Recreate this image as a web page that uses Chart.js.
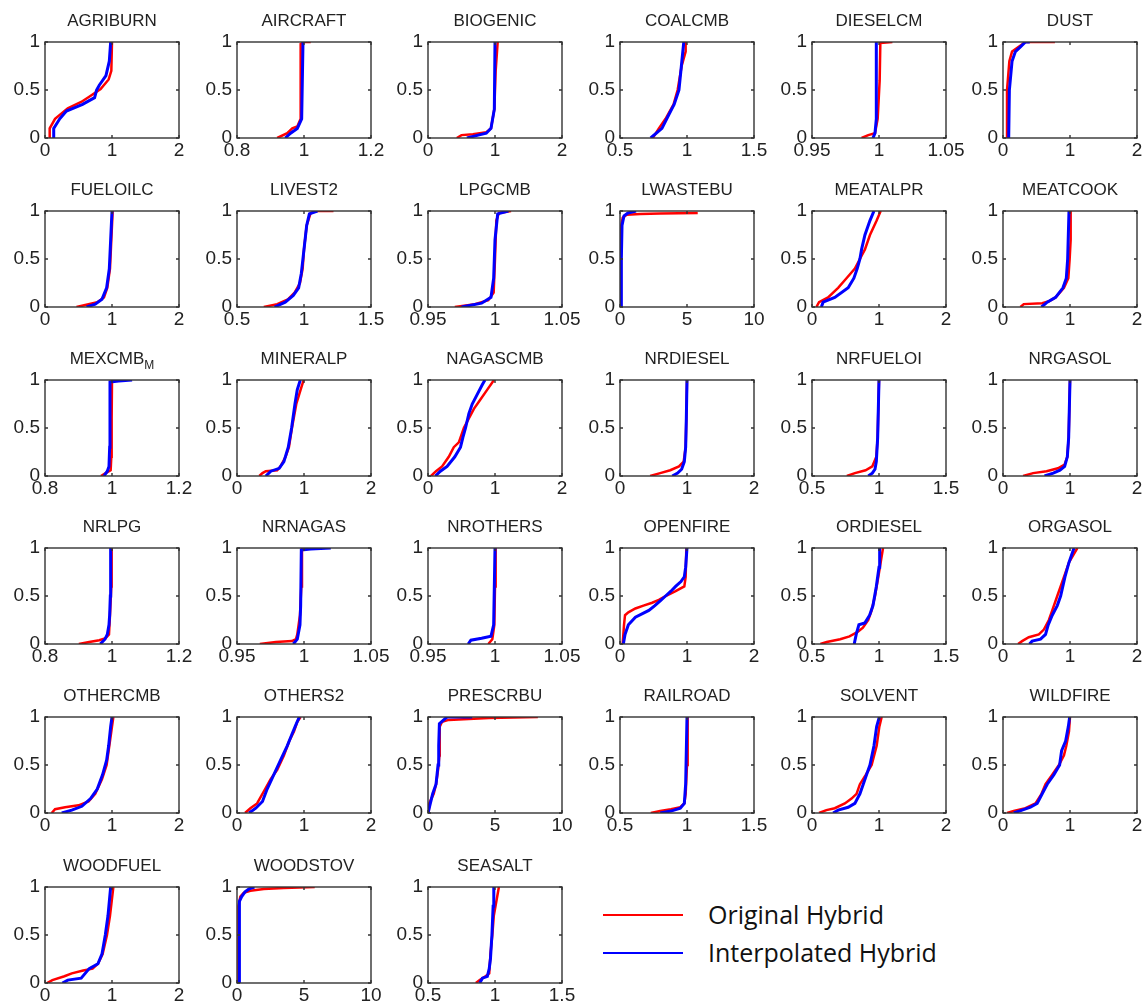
<!DOCTYPE html>
<html>
<head>
<meta charset="utf-8">
<script src="https://cdn.jsdelivr.net/npm/chart.js@4.4.1/dist/chart.umd.min.js"></script>
<style>
  html, body { margin: 0; padding: 0; background: #fff; overflow: hidden; }
  #wrap { position: relative; width: 1148px; height: 1008px; overflow: hidden; }
  #wrap canvas { position: absolute; }
  .leg-line { position: absolute; left: 603px; width: 80px; height: 2px; }
  .leg-text { position: absolute; left: 708px; font-family: "Open Sans", sans-serif; font-size: 25px; line-height: 30px; color: #111; white-space: nowrap; }
</style>
</head>
<body>
<div id="wrap"></div>
<script>
// panel titles, "_" marks a subscript
const panelNames = [
  'AGRIBURN', 'AIRCRAFT', 'BIOGENIC', 'COALCMB', 'DIESELCM', 'DUST',
  'FUELOILC', 'LIVEST2', 'LPGCMB', 'LWASTEBU', 'MEATALPR', 'MEATCOOK',
  'MEXCMB_M', 'MINERALP', 'NAGASCMB', 'NRDIESEL', 'NRFUELOI', 'NRGASOL',
  'NRLPG', 'NRNAGAS', 'NROTHERS', 'OPENFIRE', 'ORDIESEL', 'ORGASOL',
  'OTHERCMB', 'OTHERS2', 'PRESCRBU', 'RAILROAD', 'SOLVENT', 'WILDFIRE',
  'WOODFUEL', 'WOODSTOV', 'SEASALT'
];

const xTicks = [
  [0, 1, 2], [0.8, 1, 1.2], [0, 1, 2], [0.5, 1, 1.5], [0.95, 1, 1.05], [0, 1, 2],
  [0, 1, 2], [0.5, 1, 1.5], [0.95, 1, 1.05], [0, 5, 10], [0, 1, 2], [0, 1, 2],
  [0.8, 1, 1.2], [0, 1, 2], [0, 1, 2], [0, 1, 2], [0.5, 1, 1.5], [0, 1, 2],
  [0.8, 1, 1.2], [0.95, 1, 1.05], [0.95, 1, 1.05], [0, 1, 2], [0.5, 1, 1.5], [0, 1, 2],
  [0, 1, 2], [0, 1, 2], [0, 5, 10], [0.5, 1, 1.5], [0, 1, 2], [0, 1, 2],
  [0, 1, 2], [0, 5, 10], [0.5, 1, 1.5]
];
const yTicks = [0, 0.5, 1];

const seriesNames = ['Original Hybrid', 'Interpolated Hybrid'];
const seriesColors = ['#ff0000', '#0000ff'];

// [x, cumulative fraction]
const originalHybrid = [
  [[0.06,0],[0.07,0.1],[0.15,0.2],[0.34,0.31],[0.54,0.375],[0.66,0.43],[0.83,0.51],[0.95,0.61],[0.99,0.7],[1.0,1]],
  [[0.92,0],[0.95,0.05],[0.965,0.1],[0.98,0.12],[0.99,0.2],[0.99,0.98],[1.0,1],[1.02,1]],
  [[0.43,0],[0.5,0.03],[0.67,0.04],[0.87,0.06],[0.94,0.1],[0.99,0.3],[1.01,0.7],[1.04,1]],
  [[0.745,0],[0.79,0.1],[0.84,0.2],[0.9,0.35],[0.93,0.5],[0.96,0.75],[0.99,0.9],[0.99,1]],
  [[0.987,0],[0.992,0.03],[0.997,0.05],[0.999,0.2],[1.0005,0.6],[1.001,0.99],[1.01,1]],
  [[0.06,0],[0.06,0.5],[0.095,0.8],[0.135,0.9],[0.235,0.95],[0.335,1],[0.775,1]],
  [[0.47,0],[0.6,0.02],[0.78,0.05],[0.88,0.1],[0.93,0.2],[0.97,0.4],[0.99,0.7],[1.01,1]],
  [[0.7,0],[0.8,0.03],[0.88,0.08],[0.93,0.15],[0.97,0.25],[0.99,0.4],[1.0,0.6],[1.02,0.85],[1.05,0.98],[1.1,1],[1.22,1]],
  [[0.97,0],[0.985,0.03],[0.995,0.07],[0.999,0.15],[1.0,0.5],[1.001,0.9],[1.003,0.98],[1.012,1]],
  [[0.05,0],[0.07,0.5],[0.1,0.85],[0.2,0.93],[0.5,0.96],[1.5,0.97],[3,0.975],[5.8,0.98]],
  [[0.065,0],[0.105,0.05],[0.24,0.1],[0.39,0.2],[0.515,0.3],[0.64,0.4],[0.715,0.5],[0.79,0.6],[0.865,0.75],[0.965,0.9],[1.025,1]],
  [[0.26,0],[0.31,0.03],[0.585,0.04],[0.685,0.06],[0.785,0.1],[0.91,0.2],[0.975,0.3],[0.995,0.5],[1.01,0.7],[1.01,1]],
  [[0.967,0],[0.981,0.03],[0.996,0.06],[0.998,0.2],[0.999,0.6],[1.0,1]],
  [[0.333,0],[0.38,0.03],[0.43,0.05],[0.6,0.06],[0.65,0.1],[0.725,0.2],[0.775,0.3],[0.82,0.5],[0.885,0.75],[0.95,0.9],[0.995,1]],
  [[0.045,0],[0.12,0.05],[0.21,0.1],[0.31,0.2],[0.385,0.3],[0.46,0.35],[0.535,0.5],[0.61,0.6],[0.685,0.7],[0.785,0.8],[0.885,0.9],[0.985,1]],
  [[0.45,0],[0.6,0.03],[0.75,0.06],[0.88,0.1],[0.95,0.15],[0.98,0.3],[0.99,0.6],[1.0,1]],
  [[0.76,0],[0.82,0.03],[0.9,0.06],[0.95,0.1],[0.98,0.2],[0.99,0.4],[1.0,1]],
  [[0.3,0],[0.45,0.03],[0.65,0.05],[0.82,0.08],[0.92,0.12],[0.96,0.2],[0.98,0.4],[0.99,0.7],[1.0,1]],
  [[0.901,0],[0.932,0.02],[0.962,0.04],[0.981,0.06],[0.991,0.1],[0.994,0.3],[0.998,0.6],[0.999,1]],
  [[0.967,0],[0.979,0.02],[0.991,0.03],[0.994,0.05],[0.995,0.1],[0.997,0.3],[0.998,0.6],[0.9985,1]],
  [[0.995,0],[0.998,0.05],[0.9995,0.2],[1.0,0.6],[1.0005,1]],
  [[0.04,0],[0.05,0.1],[0.06,0.2],[0.075,0.3],[0.125,0.33],[0.23,0.37],[0.35,0.4],[0.48,0.43],[0.58,0.46],[0.68,0.5],[0.83,0.55],[0.96,0.6],[0.98,0.7],[0.99,1]],
  [[0.5625,0],[0.61,0.02],[0.71,0.05],[0.78,0.08],[0.845,0.13],[0.88,0.17],[0.92,0.25],[0.945,0.35],[0.97,0.5],[0.995,0.7],[1.03,1]],
  [[0.225,0],[0.285,0.03],[0.385,0.07],[0.535,0.1],[0.61,0.15],[0.685,0.25],[0.735,0.35],[0.81,0.5],[0.91,0.7],[0.985,0.85],[1.11,1]],
  [[0.1,0],[0.15,0.04],[0.3,0.06],[0.5,0.08],[0.65,0.12],[0.75,0.2],[0.85,0.35],[0.92,0.5],[0.96,0.7],[1.0,0.9],[1.02,1]],
  [[0.12,0],[0.2,0.05],[0.3,0.1],[0.42,0.25],[0.5,0.35],[0.6,0.45],[0.7,0.6],[0.78,0.75],[0.85,0.85],[0.9,0.95],[0.95,1]],
  [[0.05,0],[0.1,0.1],[0.25,0.15],[0.425,0.2],[0.6,0.3],[0.75,0.45],[0.85,0.6],[0.875,0.9],[1.05,0.95],[1.55,0.97],[3.05,0.98],[4.55,0.99],[8.2,1]],
  [[0.73,0],[0.8,0.02],[0.88,0.04],[0.95,0.06],[0.98,0.1],[0.99,0.2],[1.0,0.5],[1.005,1]],
  [[0.105,0],[0.215,0.03],[0.34,0.05],[0.49,0.1],[0.59,0.15],[0.665,0.2],[0.715,0.3],[0.805,0.4],[0.89,0.5],[0.965,0.7],[1.005,0.9],[1.04,1]],
  [[0.06,0],[0.16,0.02],[0.335,0.05],[0.485,0.1],[0.575,0.2],[0.635,0.3],[0.735,0.4],[0.835,0.5],[0.91,0.6],[0.945,0.7],[0.985,0.85],[1.0,1]],
  [[0.03,0],[0.11,0.03],[0.29,0.07],[0.4,0.1],[0.57,0.13],[0.71,0.15],[0.79,0.2],[0.86,0.3],[0.925,0.5],[0.97,0.7],[1.02,1]],
  [[0.08,0],[0.1,0.3],[0.12,0.8],[0.25,0.9],[0.5,0.94],[1.0,0.96],[2,0.98],[3.5,0.99],[5.8,1]],
  [[0.857,0],[0.886,0.03],[0.929,0.07],[0.957,0.1],[0.966,0.3],[0.98,0.5],[0.991,0.7],[1.029,1]]
];

const interpolatedHybrid = [
  [[0.12,0],[0.13,0.1],[0.22,0.2],[0.32,0.28],[0.56,0.35],[0.74,0.42],[0.77,0.5],[0.81,0.55],[0.91,0.65],[0.96,0.8],[0.98,1]],
  [[0.944,0],[0.96,0.05],[0.98,0.1],[0.993,0.2],[0.997,1]],
  [[0.58,0],[0.75,0.03],[0.87,0.05],[0.94,0.1],[0.99,0.3],[1.0,1]],
  [[0.729,0],[0.813,0.1],[0.867,0.25],[0.904,0.35],[0.94,0.5],[0.958,0.75],[0.976,1]],
  [[0.9955,0],[0.997,0.05],[0.998,0.2],[0.998,1]],
  [[0.085,0],[0.095,0.5],[0.135,0.8],[0.185,0.9],[0.26,0.95],[0.335,1],[0.4,1]],
  [[0.62,0],[0.75,0.03],[0.85,0.08],[0.92,0.2],[0.96,0.4],[0.98,0.7],[1.0,1]],
  [[0.78,0],[0.86,0.05],[0.92,0.12],[0.96,0.2],[0.98,0.35],[1.0,0.6],[1.02,0.85],[1.04,0.97],[1.1,1]],
  [[0.975,0],[0.99,0.04],[0.997,0.1],[0.999,0.3],[1.0,0.7],[1.002,0.97],[1.01,1]],
  [[0.08,0],[0.1,0.5],[0.15,0.85],[0.3,0.95],[0.6,0.98],[1.2,1]],
  [[0.14,0],[0.165,0.05],[0.34,0.1],[0.54,0.2],[0.625,0.3],[0.675,0.4],[0.715,0.5],[0.74,0.6],[0.79,0.75],[0.865,0.9],[0.925,1]],
  [[0.575,0],[0.66,0.05],[0.785,0.1],[0.895,0.2],[0.945,0.3],[0.965,0.5],[0.985,1]],
  [[0.976,0],[0.986,0.05],[0.991,0.1],[0.993,0.3],[0.994,0.98],[1.02,0.99],[1.06,1]],
  [[0.43,0],[0.505,0.05],[0.63,0.08],[0.7,0.15],[0.765,0.3],[0.815,0.5],[0.865,0.75],[0.9,0.9],[0.945,1]],
  [[0.11,0],[0.185,0.05],[0.285,0.1],[0.4,0.2],[0.485,0.3],[0.52,0.4],[0.56,0.5],[0.61,0.65],[0.66,0.75],[0.735,0.85],[0.81,0.95],[0.85,1]],
  [[0.78,0],[0.86,0.03],[0.92,0.07],[0.96,0.15],[0.98,0.3],[0.99,0.6],[1.0,1]],
  [[0.92,0],[0.95,0.03],[0.97,0.07],[0.98,0.15],[0.99,0.4],[1.0,1]],
  [[0.62,0],[0.75,0.03],[0.85,0.06],[0.92,0.1],[0.96,0.2],[0.98,0.4],[0.99,0.7],[1.0,1]],
  [[0.965,0],[0.979,0.05],[0.986,0.1],[0.991,0.2],[0.993,0.3],[0.995,0.5],[0.996,1]],
  [[0.992,0],[0.995,0.05],[0.997,0.2],[0.9975,0.4],[0.998,0.98],[1.005,0.99],[1.02,1]],
  [[0.98,0],[0.982,0.04],[0.99,0.06],[0.997,0.08],[0.999,0.2],[1.0,1]],
  [[0.05,0],[0.075,0.1],[0.125,0.2],[0.23,0.28],[0.43,0.35],[0.52,0.4],[0.6,0.45],[0.68,0.5],[0.76,0.55],[0.83,0.6],[0.91,0.65],[0.96,0.7],[0.98,0.8],[1.0,1]],
  [[0.815,0],[0.83,0.1],[0.85,0.2],[0.895,0.22],[0.93,0.3],[0.955,0.4],[0.98,0.6],[1.0,0.8],[1.005,1]],
  [[0.395,0],[0.435,0.03],[0.56,0.05],[0.635,0.1],[0.675,0.2],[0.735,0.3],[0.81,0.4],[0.86,0.5],[0.925,0.7],[0.985,0.85],[1.06,1]],
  [[0.25,0],[0.4,0.03],[0.55,0.07],[0.68,0.15],[0.78,0.25],[0.86,0.4],[0.92,0.55],[0.95,0.7],[0.98,0.9],[1.0,1]],
  [[0.18,0],[0.28,0.05],[0.38,0.12],[0.45,0.25],[0.55,0.4],[0.65,0.55],[0.75,0.7],[0.82,0.82],[0.88,0.92],[0.93,1]],
  [[0.0,0],[0.175,0.1],[0.35,0.2],[0.6,0.3],[0.75,0.5],[0.8,0.7],[0.85,0.93],[1.175,0.97],[1.425,1],[3.3,1]],
  [[0.8,0],[0.88,0.02],[0.95,0.05],[0.98,0.1],[0.99,0.3],[1.0,1]],
  [[0.315,0],[0.39,0.03],[0.54,0.06],[0.64,0.1],[0.715,0.2],[0.765,0.3],[0.815,0.4],[0.865,0.5],[0.925,0.7],[0.965,0.9],[1.005,1]],
  [[0.16,0],[0.285,0.03],[0.41,0.06],[0.51,0.1],[0.585,0.2],[0.66,0.3],[0.76,0.4],[0.845,0.5],[0.875,0.65],[0.935,0.75],[0.975,0.9],[0.995,1]],
  [[0.26,0],[0.34,0.03],[0.54,0.05],[0.6,0.1],[0.66,0.15],[0.79,0.2],[0.85,0.3],[0.9,0.5],[0.94,0.7],[0.98,1]],
  [[0.15,0],[0.16,0.5],[0.2,0.85],[0.35,0.9],[0.6,0.95],[0.9,0.98],[1.3,1]],
  [[0.886,0],[0.906,0.05],[0.943,0.07],[0.957,0.15],[0.966,0.25],[0.977,0.5],[0.986,0.8],[0.991,1]]
];

// grid geometry of the 6x6 layout (plot boxes)
const colLeft = [45, 237, 428, 620, 812, 1003];
const rowTop = [42, 211, 380, 548, 717, 887];
const boxW = 134, boxH = 96;
const padTop = 42, axisW = 45, padRight = 28, axisH = 31;
const textColor = '#222';
const tickFont = { family: '"Liberation Sans", Arial, sans-serif', size: 19 };

// box with inward tick marks, matlab style
const boxPlugin = {
  id: 'box',
  afterDraw(chart) {
    const { ctx, chartArea: a, scales } = chart;
    ctx.save();
    ctx.strokeStyle = '#333';
    ctx.lineWidth = 1.4;
    ctx.strokeRect(a.left, a.top, a.right - a.left, a.bottom - a.top);
    ctx.beginPath();
    scales.x.ticks.forEach(t => {
      const px = scales.x.getPixelForValue(t.value);
      ctx.moveTo(px, a.bottom); ctx.lineTo(px, a.bottom - 3);
      ctx.moveTo(px, a.top); ctx.lineTo(px, a.top + 3);
    });
    scales.y.ticks.forEach(t => {
      const py = scales.y.getPixelForValue(t.value);
      ctx.moveTo(a.left, py); ctx.lineTo(a.left + 3, py);
      ctx.moveTo(a.right, py); ctx.lineTo(a.right - 3, py);
    });
    ctx.stroke();
    ctx.restore();
  }
};

// title with optional subscript
const titlePlugin = {
  id: 'panelTitle',
  afterDraw(chart, args, opts) {
    const { ctx, chartArea: a } = chart;
    const [main, sub] = opts.text.split('_');
    const cx = (a.left + a.right) / 2, cy = a.top - 21;
    ctx.save();
    ctx.fillStyle = textColor;
    ctx.textBaseline = 'middle';
    ctx.font = '17px "Liberation Sans", Arial, sans-serif';
    const w1 = ctx.measureText(main).width;
    let w2 = 0;
    if (sub) {
      ctx.font = '12px "Liberation Sans", Arial, sans-serif';
      w2 = ctx.measureText(sub).width;
    }
    const x0 = cx - (w1 + w2) / 2;
    ctx.font = '17px "Liberation Sans", Arial, sans-serif';
    ctx.textAlign = 'left';
    ctx.fillText(main, x0, cy);
    if (sub) {
      ctx.font = '12px "Liberation Sans", Arial, sans-serif';
      ctx.fillText(sub, x0 + w1, cy + 7);
    }
    ctx.restore();
  }
};

const wrap = document.getElementById('wrap');

panelNames.forEach((name, i) => {
  const col = i % 6, row = Math.floor(i / 6);
  const canvas = document.createElement('canvas');
  canvas.width = axisW + boxW + padRight;
  canvas.height = padTop + boxH + axisH;
  canvas.style.left = (colLeft[col] - axisW) + 'px';
  canvas.style.top = (rowTop[row] - padTop) + 'px';
  wrap.appendChild(canvas);

  const ticks = xTicks[i];
  new Chart(canvas.getContext('2d'), {
    type: 'line',
    data: {
      datasets: [
        {
          label: seriesNames[0],
          data: originalHybrid[i].map(p => ({ x: p[0], y: p[1] })),
          borderColor: seriesColors[0],
          borderWidth: 2.5,
          pointRadius: 0,
          tension: 0,
          order: 1,
        },
        {
          label: seriesNames[1],
          data: interpolatedHybrid[i].map(p => ({ x: p[0], y: p[1] })),
          borderColor: seriesColors[1],
          borderWidth: 3,
          pointRadius: 0,
          tension: 0,
          order: 0,
        },
      ],
    },
    options: {
      responsive: false,
      animation: false,
      events: [],
      layout: { padding: { top: padTop, right: padRight, left: 0, bottom: 0 } },
      plugins: {
        legend: { display: false },
        tooltip: { enabled: false },
        title: { display: false },
        panelTitle: { text: name },
      },
      scales: {
        x: {
          type: 'linear',
          min: ticks[0],
          max: ticks[ticks.length - 1],
          grid: { display: false, drawTicks: false },
          border: { display: false },
          ticks: {
            font: tickFont,
            color: textColor,
            padding: 1,
            maxRotation: 0,
            autoSkip: false,
            callback: v => String(v),
          },
          afterBuildTicks: s => { s.ticks = ticks.map(v => ({ value: v })); },
          afterFit: s => { s.height = axisH; },
        },
        y: {
          min: 0,
          max: 1,
          grid: { display: false, drawTicks: false },
          border: { display: false },
          ticks: {
            font: tickFont,
            color: textColor,
            padding: 5,
            autoSkip: false,
            callback: v => String(v),
          },
          afterBuildTicks: s => { s.ticks = yTicks.map(v => ({ value: v })); },
          afterFit: s => { s.width = axisW; },
        },
      },
    },
    plugins: [boxPlugin, titlePlugin],
  });
});

// legend
const legY = [915, 953];
seriesNames.forEach((n, k) => {
  const line = document.createElement('div');
  line.className = 'leg-line';
  line.style.top = (legY[k] - 1) + 'px';
  line.style.background = seriesColors[k];
  wrap.appendChild(line);
  const txt = document.createElement('div');
  txt.className = 'leg-text';
  txt.style.top = (legY[k] - 16) + 'px';
  txt.textContent = n;
  wrap.appendChild(txt);
});
</script>
</body>
</html>
